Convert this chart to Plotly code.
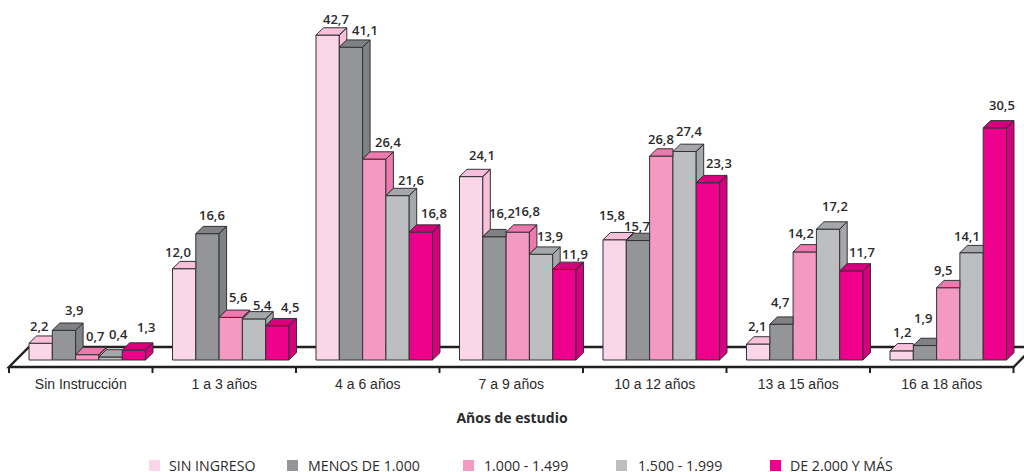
import plotly.graph_objects as go

# ---------- data ----------
categories = ["Sin Instrucción", "1 a 3 años", "4 a 6 años", "7 a 9 años",
              "10 a 12 años", "13 a 15 años", "16 a 18 años"]
sin_ingreso = [2.2, 12.0, 42.7, 24.1, 15.8, 2.1, 1.2]
menos_1000 = [3.9, 16.6, 41.1, 16.2, 15.7, 4.7, 1.9]
de_1000 = [0.7, 5.6, 26.4, 16.8, 26.8, 14.2, 9.5]
de_1500 = [0.4, 5.4, 21.6, 13.9, 27.4, 17.2, 14.1]
de_2000 = [1.3, 4.5, 16.8, 11.9, 23.3, 11.7, 30.5]

series_names = ["SIN INGRESO", "MENOS DE 1.000", "1.000 - 1.499", "1.500 - 1.999", "DE 2.000 Y MÁS"]
series_values = [sin_ingreso, menos_1000, de_1000, de_1500, de_2000]

# ---------- styles ----------
front_colors = ["#FBD5E8", "#939598", "#F499C1", "#BCBEC0", "#EC008C"]
face_colors = ["#F9BFDB", "#7F8184", "#EE79AE", "#A5A7AA", "#D6007F"]
EDGE = "#333333"
INK = "#2B2B2B"
FONT = "Open Sans"

# label nudges in screen pixels, relative to the top centre of each bar's front face
label_dx = [[-2, 10, 8, 8, 12], [-6, 5, 7, 8, 13], [8, 14, 14, 13, 13], [11, 8, 9, 9, 11],
            [-3, -1, 0, 4, 11], [-1, -1, -4, 7, 11], [0, -2, -5, -5, 7]]
label_dy = [[17, 20, 19, 23, 23], [17, 19, 20, 14, 19], [16, 17, 17, 16, 19], [22, 24, 21, 18, 15],
            [25, 15, 17, 20, 20], [18, 22, 19, 23, 19], [19, 28, 18, 17, 23]]

# ---------- geometry ----------
W, H = 1024, 472
BOTTOM_MARGIN = 98
PLOT_H = H - BOTTOM_MARGIN
ZERO_PX = 360
PX_PER_UNIT = 7.61
GROUP_PX = 143.5
AXIS_LEFT_PX = 9
X_PER_PX = 1 / GROUP_PX
Y_PER_PX = 1 / PX_PER_UNIT

BAR_W = 23.3 * X_PER_PX
GROUP_OFFSET = 20 * X_PER_PX
DEPTH_X = 7.5 * X_PER_PX
DEPTH_Y = 7.3 * Y_PER_PX

x_range = [-AXIS_LEFT_PX * X_PER_PX, (W - AXIS_LEFT_PX) * X_PER_PX]
y_range = [(ZERO_PX - PLOT_H) * Y_PER_PX, ZERO_PX * Y_PER_PX]

FRONT_Y = -7 * Y_PER_PX
BACK_Y = 13 * Y_PER_PX
SLANT_X = 20 * X_PER_PX
n_groups = len(categories)

fig = go.Figure()

# floor drawn beneath the bars
floor_x0, floor_x1 = 0, n_groups
line_style = dict(color="#231F20", width=2.4)
fig.add_shape(type="path", layer="below", xref="x", yref="y",
              path=f"M {floor_x0},{FRONT_Y} L {floor_x1 + 0.001},{FRONT_Y} "
                   f"L {floor_x1 + SLANT_X},{BACK_Y} L {floor_x0 + SLANT_X},{BACK_Y} Z",
              fillcolor="white", line=line_style)
for i in range(n_groups + 1):
    fig.add_shape(type="line", layer="below", xref="x", yref="y",
                  x0=i, x1=i, y0=FRONT_Y, y1=FRONT_Y - 6 * Y_PER_PX,
                  line=dict(color="#231F20", width=2))

# front faces
for j, (name, vals) in enumerate(zip(series_names, series_values)):
    fig.add_trace(go.Bar(
        x=[i + GROUP_OFFSET + BAR_W * (j + 0.5) for i in range(n_groups)],
        y=vals, width=BAR_W, name=name, showlegend=False, hoverinfo="skip",
        marker=dict(color=front_colors[j], line=dict(color=EDGE, width=1)),
    ))

# top and side faces, derived from the same values
for j, vals in enumerate(series_values):
    px, py = [], []
    for i, v in enumerate(vals):
        left = i + GROUP_OFFSET + BAR_W * j
        right = left + BAR_W
        nxt = series_values[j + 1][i] if j + 1 < len(series_values) else None
        if nxt is None or nxt < v:
            low = 0 if nxt is None else nxt
            px += [right, right + DEPTH_X, right + DEPTH_X, right, right, None]
            py += [low, low + DEPTH_Y, v + DEPTH_Y, v, low, None]
            px += [left, right, right + DEPTH_X, left + DEPTH_X, left, None]
            py += [v, v, v + DEPTH_Y, v + DEPTH_Y, v, None]
        else:
            px += [left, right, right, left + DEPTH_X, left, None]
            py += [v, v, v + DEPTH_Y, v + DEPTH_Y, v, None]
    fig.add_trace(go.Scatter(
        x=px, y=py, mode="lines", fill="toself", fillcolor=face_colors[j],
        line=dict(color=EDGE, width=1), showlegend=False, hoverinfo="skip",
    ))

# value labels
for j, vals in enumerate(series_values):
    for i, v in enumerate(vals):
        fig.add_annotation(
            x=i + GROUP_OFFSET + BAR_W * (j + 0.5), y=v, xref="x", yref="y",
            text=f"{v:.1f}".replace(".", ","), showarrow=False,
            xanchor="center", yanchor="middle",
            xshift=label_dx[i][j], yshift=label_dy[i][j],
            font=dict(family=FONT, size=13, color=INK, weight=600),
        )

# legend row
swatch_px = [149, 287, 463, 616, 770]
text_px = [167, 306, 482, 636, 788]
def paper_y(p):
    return (PLOT_H - p) / PLOT_H
for s, t, name, col in zip(swatch_px, text_px, series_names, front_colors):
    fig.add_shape(type="rect", xref="paper", yref="paper",
                  x0=s / W, x1=(s + 11) / W, y0=paper_y(471), y1=paper_y(460),
                  fillcolor=col, line=dict(width=0))
    fig.add_annotation(x=t / W, y=paper_y(465.5), xref="paper", yref="paper",
                       text=name, showarrow=False, xanchor="left", yanchor="middle",
                       font=dict(family=FONT, size=14.2, color=INK))

fig.update_layout(
    width=W, height=H, autosize=False,
    margin=dict(l=0, r=0, t=0, b=BOTTOM_MARGIN, pad=0),
    paper_bgcolor="white", plot_bgcolor="white",
    barmode="overlay", showlegend=False,
    xaxis=dict(range=x_range, tickmode="array",
               tickvals=[i + 0.5 for i in range(n_groups)], ticktext=categories,
               ticks="", showgrid=False, zeroline=False, showline=False,
               tickfont=dict(family="Liberation Sans", size=14, color=INK),
               title=dict(text="<b>Años de estudio</b>", standoff=22,
                          font=dict(family=FONT, size=14, color=INK))),
    yaxis=dict(range=y_range, visible=False),
)

fig.write_html("out.html", config={"displayModeBar": False},
               post_script="document.documentElement.style.overflow='hidden';document.body.style.margin='0';")
